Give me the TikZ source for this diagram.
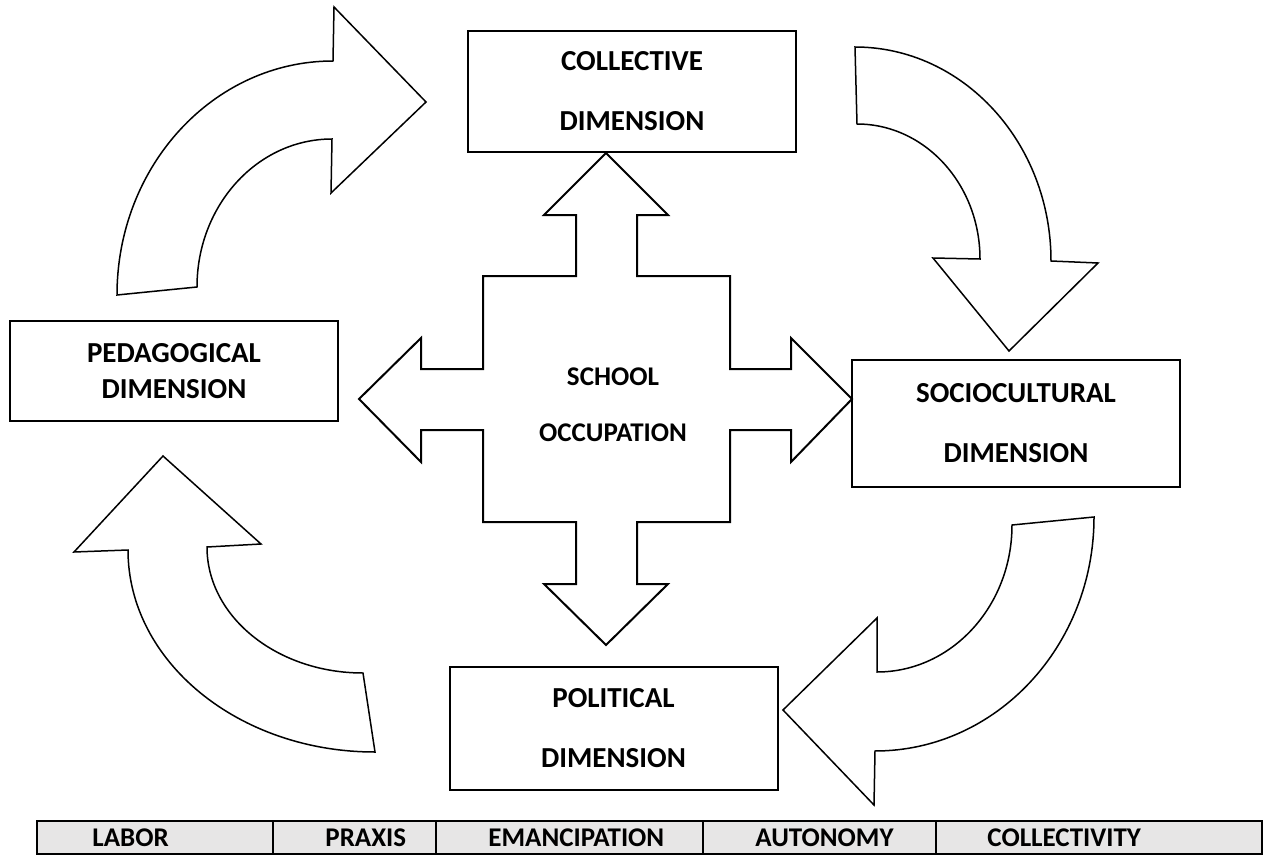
\documentclass[tikz,border=0pt]{standalone}
\usepackage{fontspec}
\setmainfont{Carlito}
\usetikzlibrary{positioning}
\definecolor{cellgray}{RGB}{231,230,230}

\begin{document}
\begin{tikzpicture}[x=0.5pt,y=-0.5pt,
    dim/.style={draw,line width=1pt,align=center,minimum width=164pt,
      font=\bfseries\fontsize{14.5}{30}\selectfont},
    bigarrow/.style={draw,line width=0.75pt,fill=white},
    cell/.style={font=\bfseries\fontsize{13.5}{15}\selectfont,anchor=west,inner sep=0pt}]
  \useasboundingbox (0,0) rectangle (1264,856);
  % curved arrows
  \draw[bigarrow] (117,295) arc[start angle=180,end angle=270,x radius=216,y radius=234]
    -- (334,7) -- (426,102) -- (331,193) -- (332,139)
    arc[start angle=270,end angle=180,x radius=135,y radius=148] -- cycle;
  \draw[bigarrow] (855,47) arc[start angle=270,end angle=360,x radius=196,y radius=214]
    -- (1098,263) -- (1009,351) -- (933,258) -- (980,259)
    arc[start angle=0,end angle=-90,x radius=123,y radius=135] -- cycle;
  \draw[bigarrow] (1094,517) arc[start angle=0,end angle=90,x radius=219,y radius=234]
    -- (874,805) -- (783,710) -- (877,618) -- (877,672)
    arc[start angle=90,end angle=0,x radius=135,y radius=147] -- cycle;
  \draw[bigarrow] (128,550) arc[start angle=180,end angle=90,x radius=247,y radius=202]
    -- (363,673)
    arc[start angle=90,end angle=180,x radius=156,y radius=126]
    -- (261,544) -- (163,456) -- (74,552) -- cycle;
  % four-way arrow
  \draw[bigarrow,line width=1pt] (606,153) -- (668,215) -- (637,215) -- (637,276)
    -- (730,276) -- (730,369) -- (791,369) -- (791,338) -- (852,399) -- (791,462)
    -- (791,430) -- (730,430) -- (730,522) -- (637,522) -- (637,584) -- (668,584)
    -- (606,645) -- (544,584) -- (576,584) -- (576,522) -- (483,522) -- (483,430)
    -- (421,430) -- (421,462) -- (359,399) -- (421,338) -- (421,369) -- (483,369)
    -- (483,276) -- (576,276) -- (576,215) -- (544,215) -- cycle;
  \node[align=center,font=\bfseries\fontsize{13.5}{28}\selectfont] (school) at (613,405) {SCHOOL\\OCCUPATION};
  % dimensions
  \node[dim,minimum height=60.5pt] (coll) at (632,91.5) {COLLECTIVE\\DIMENSION};
  \node[dim,minimum height=50pt,font=\bfseries\fontsize{14.5}{18}\selectfont] (peda) at (174,371) {PEDAGOGICAL\\DIMENSION};
  \node[dim,minimum height=63.5pt] (socio) at (1016,423.5) {SOCIOCULTURAL\\DIMENSION};
  \node[dim,minimum height=61.5pt] (poli) at (613.5,728.5) {POLITICAL\\DIMENSION};
  % table
  \draw[line width=0.75pt,fill=cellgray] (37,821) rectangle (1262,854);
  \foreach \x in {273,436,703,936}
    \draw[line width=0.75pt] (\x,821) -- (\x,854);
  \foreach \t/\x [count=\i] in {LABOR/92,PRAXIS/325,EMANCIPATION/488,AUTONOMY/755,COLLECTIVITY/987}
    \node[cell] (c\i) at (\x,838) {\t};
\end{tikzpicture}
\end{document}
